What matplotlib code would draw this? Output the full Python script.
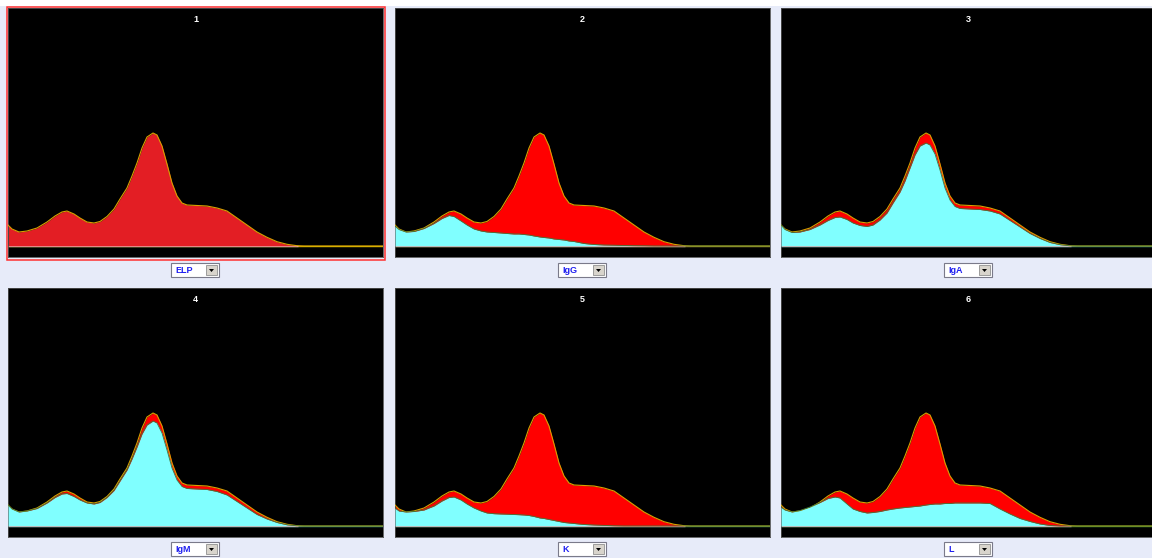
import matplotlib
matplotlib.use("Agg")
import matplotlib.pyplot as plt
from matplotlib.patches import Rectangle, Polygon

W, H = 1152, 558

# sample positions across a panel (panel pixel units, 0..375)
x_pts = [0, 4, 11, 19, 29, 39, 47, 54, 59, 66, 72, 79, 86, 92, 99, 106, 112, 119, 124, 129,
         134, 139, 145, 149, 154, 159, 164, 169, 174, 179, 189, 199, 209, 219, 229, 239, 249, 259, 269, 279,
         289, 296, 375]

# total protein electrophoresis (ELP), height above baseline
elp = [21, 17, 14, 15, 18, 24, 30, 34, 35, 32, 28, 24, 23, 24.5, 29.5, 37, 47, 58, 70, 83,
       98, 109, 113, 111, 100, 82, 63, 50, 43, 41, 40.5, 40, 38, 35, 28, 21, 14, 8.7, 4.3, 1.7,
       0.3, 0, 0]

igg = [20, 16.5, 14, 14.5, 17.5, 22.5, 27.5, 30.5, 29.5, 25, 21, 17, 15, 14, 13.5, 13, 12.5, 12, 12, 11.5,
       11, 10, 9, 8.5, 8, 7, 6.5, 6, 5, 4.5, 2.5, 1.5, 1, 0.8, 0.5, 0.3, 0.2, 0, 0, 0,
       0, 0, 0]

iga = [21, 16.5, 13.5, 14, 16.5, 21, 25.5, 28.5, 29, 26.5, 23, 20.5, 19.5, 21, 26, 33, 43, 54, 65, 78,
       91, 100, 103, 101, 92, 76, 58, 46, 39.5, 37.5, 37, 36.5, 35, 32, 25.5, 19, 12.5, 7.5, 3.5, 1.3,
       0.2, 0, 0]

igm = [21, 17, 14, 15, 17.5, 23, 28.5, 32, 32.5, 29.5, 26, 23, 22, 23.5, 28.5, 35.5, 45, 56, 67, 79,
       92, 101, 105, 103, 93, 76, 58, 46, 39.5, 37.5, 37, 36.5, 34.5, 31, 24.5, 18, 11.5, 7, 3.5, 1.2,
       0.2, 0, 0]

kappa = [18, 15, 14, 14.5, 16, 20, 25, 28.5, 29, 26, 22, 18, 15, 13, 12.3, 12, 11.8, 11.5, 11.3, 11,
         10.5, 9.5, 8, 7.5, 6.5, 5.5, 4.5, 3.5, 3, 2.5, 1.5, 1, 0.6, 0.2, 0, 0, 0, 0, 0, 0,
         0, 0, 0]

lam = [19, 16, 14, 15.5, 19, 23.5, 27.5, 29, 28, 22, 17, 14.5, 13, 13.5, 14.5, 16, 17, 18, 18.5, 19,
       19.5, 20, 21, 21.5, 22, 22, 22.5, 22.5, 23, 23, 23, 23, 22.5, 17, 12, 7.5, 4.5, 2, 0.5, 0,
       0, 0, 0]

panel_titles = ["1", "2", "3", "4", "5", "6"]
selectors = ["ELP", "IgG", "IgA", "IgM", "K", "L"]
overlays = [None, igg, iga, igm, kappa, lam]
base_colors = ["#d8c400", "#a8a040", "#2aa0a0", "#2aa0a0", "#3a9a6a", "#3a9a3a"]

BG = "#e7ebf9"
RED = "#ff0000"
CYAN = "#80ffff"

fig = plt.figure(figsize=(W / 100, H / 100), dpi=100, facecolor=BG)


def fx(px):
    return px / W


def fy(py):
    return 1 - py / H


# white strip along the top edge
fig.patches.append(Rectangle((0, fy(6)), 1, 6 / H, transform=fig.transFigure,
                             facecolor="white", edgecolor="none", zorder=0))

cols = [(8, 383), (395, 770), (781, 1156)]
rows = [(8, 257), (288, 537)]
drop_rows = [(263, 277), (542, 556)]

for i in range(6):
    r, c = divmod(i, 3)
    x0, x1 = cols[c]
    y0, y1 = rows[r]
    ax = fig.add_axes([fx(x0), fy(y1), fx(x1 - x0), (y1 - y0) / H])
    ax.set_facecolor("black")
    ax.set_xlim(0, 375)
    ax.set_ylim(-11, 238)
    ax.set_xticks([])
    ax.set_yticks([])
    for s in ax.spines.values():
        s.set_color("#505050")
        s.set_linewidth(0.6)

    ax.axhline(0, color=base_colors[i], lw=1.0, zorder=1)
    ax.hlines(0, 0, 290, color="#e8f0f0", lw=0.9, zorder=1.5)

    red = "#e31e24" if i == 0 else RED
    ax.fill_between(x_pts, 0, elp, color=red, lw=0, zorder=2)
    ax.plot(x_pts, elp, color="#d8a000", lw=0.8, zorder=3)
    ov = overlays[i]
    if ov is not None:
        ax.fill_between(x_pts, 0, ov, color=CYAN, lw=0, zorder=4)
        ax.plot(x_pts, ov, color="#3c7a3c", lw=0.6, zorder=5)

    ax.text(0.5, 0.955, panel_titles[i], transform=ax.transAxes, ha="center", va="center",
            color="white", fontsize=6.5, fontweight="bold", family="Liberation Sans")

    # dropdown selector under each panel
    dy0, dy1 = drop_rows[r]
    bx0 = x0 + 163
    bw = 48
    fig.patches.append(Rectangle((fx(bx0), fy(dy1)), fx(bw), (dy1 - dy0) / H,
                                 transform=fig.transFigure, facecolor="white",
                                 edgecolor="#7a7a8a", lw=0.8))
    ab0 = bx0 + bw - 13
    fig.patches.append(Rectangle((fx(ab0), fy(dy1 - 2)), fx(11), (dy1 - dy0 - 4) / H,
                                 transform=fig.transFigure, facecolor="#d8d4cc",
                                 edgecolor="#909090", lw=0.6))
    cx = ab0 + 5.5
    cy = (dy0 + dy1) / 2 + 0.5
    fig.patches.append(Polygon([(fx(cx - 2.5), fy(cy - 1.5)), (fx(cx + 2.5), fy(cy - 1.5)),
                                (fx(cx), fy(cy + 1.5))], closed=True,
                               transform=fig.transFigure, facecolor="black", edgecolor="none"))
    fig.text(fx(bx0 + 4), fy(cy), selectors[i], ha="left", va="center", color="#2020f0",
             fontsize=6.5, fontweight="bold", family="Liberation Sans")

# red selection frame around panel 1
fig.patches.append(Rectangle((fx(6.5), fy(260)), fx(378), 253 / H, transform=fig.transFigure,
                             facecolor="none", edgecolor="#ff3030", lw=1.1, zorder=10))

fig.savefig("out.png", dpi=100, facecolor=BG)
